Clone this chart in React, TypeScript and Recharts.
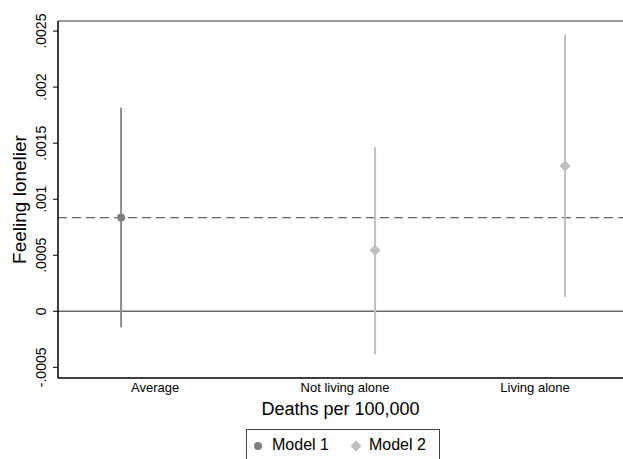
import { ComposedChart, Scatter, XAxis, YAxis, ReferenceLine, ErrorBar, Label } from 'recharts'

const categories = ['Average', 'Not living alone', 'Living alone']
const categoryTicks = [1, 2, 3]

// Model 1: overall estimate
const model1X = [0.821]
const model1Est = [0.000836]
const model1Lo = [-0.000143]
const model1Hi = [0.001817]

// Model 2: by living arrangement
const model2X = [2.158, 3.158]
const model2Est = [0.000544, 0.001296]
const model2Lo = [-0.000384, 0.000128]
const model2Hi = [0.001465, 0.00247]

const yTicks = [-0.0005, 0, 0.0005, 0.001, 0.0015, 0.002, 0.0025]
const yTickLabels = ['-.0005', '0', '.0005', '.001', '.0015', '.002', '.0025']

const X_DOMAIN: [number, number] = [0.489, 3.463]
const Y_DOMAIN: [number, number] = [-0.000595, 0.00259]

const FONT = '"Liberation Sans", Arial, Helvetica, sans-serif'
const M1 = '#7f7f7f'
const M1_LINE = '#8c8c8c'
const M2 = '#bfbfbf'

const toRows = (xs: number[], est: number[], lo: number[], hi: number[]) =>
  xs.map((x, i) => ({ x, y: est[i], err: [est[i] - lo[i], hi[i] - est[i]] }))

const model1Rows = toRows(model1X, model1Est, model1Lo, model1Hi)
const model2Rows = toRows(model2X, model2Est, model2Lo, model2Hi)

const Dot = (p: any) => <circle cx={p.cx} cy={p.cy} r={4} fill={M1} />
const Diamond = (p: any) => (
  <polygon
    points={`${p.cx},${p.cy - 5.5} ${p.cx + 5.5},${p.cy} ${p.cx},${p.cy + 5.5} ${p.cx - 5.5},${p.cy}`}
    fill={M2}
  />
)

const YTick = (p: any) => {
  const i = yTicks.indexOf(p.payload.value)
  return (
    <text
      x={41} y={p.y} transform={`rotate(-90 41 ${p.y})`}
      textAnchor="middle" dominantBaseline="central" fontSize={14} fill="#000" fontFamily={FONT}
    >
      {yTickLabels[i]}
    </text>
  )
}

const XTick = (p: any) => {
  const i = categoryTicks.indexOf(p.payload.value)
  return (
    <text x={p.x} y={p.y + 6} textAnchor="middle" fontSize={13} fill="#000" fontFamily={FONT}>
      {categories[i]}
    </text>
  )
}

const YTitle = (p: any) => {
  const vb = p.viewBox
  const cy = vb.y + vb.height / 2
  return (
    <text
      x={19} y={cy} transform={`rotate(-90 19 ${cy})`}
      textAnchor="middle" dominantBaseline="central" fontSize={19} fill="#000" fontFamily={FONT}
    >
      Feeling lonelier
    </text>
  )
}

export default function App() {
  return (
    <div style={{ position: 'absolute', left: 0, top: 0, width: 623, height: 459, overflow: 'hidden', background: '#fff', fontFamily: FONT }}>
      <ComposedChart width={623} height={459} margin={{ top: 21, right: 0, left: 0, bottom: 0 }}>
        <XAxis
          type="number" dataKey="x" domain={X_DOMAIN} ticks={categoryTicks} allowDataOverflow
          height={81} tickLine={false} axisLine={{ stroke: '#000', strokeWidth: 1.5 }} tick={<XTick />}
        >
          <Label value="Deaths per 100,000" position="insideBottom" offset={44} fontSize={18} fill="#000" fontFamily={FONT} />
        </XAxis>
        <YAxis
          type="number" dataKey="y" domain={Y_DOMAIN} ticks={yTicks} allowDataOverflow
          width={58} tickSize={5} tickLine={{ stroke: '#000' }} axisLine={{ stroke: '#000', strokeWidth: 1.5 }} tick={<YTick />}
        >
          <Label content={<YTitle />} />
        </YAxis>
        <ReferenceLine y={Y_DOMAIN[1]} stroke="#777" strokeWidth={1.5} ifOverflow="visible" />
        <ReferenceLine y={0} stroke="#6a6a6a" strokeWidth={1.5} />
        <ReferenceLine y={model1Est[0]} stroke="#666" strokeWidth={1.2} strokeDasharray="9 5" />
        <Scatter name="Model 1" data={model1Rows} shape={<Dot />} fill={M1} isAnimationActive={false}>
          <ErrorBar dataKey="err" direction="y" width={0} stroke={M1_LINE} strokeWidth={2} isAnimationActive={false} />
        </Scatter>
        <Scatter name="Model 2" data={model2Rows} shape={<Diamond />} fill={M2} isAnimationActive={false}>
          <ErrorBar dataKey="err" direction="y" width={0} stroke={M2} strokeWidth={2} isAnimationActive={false} />
        </Scatter>
      </ComposedChart>
      <div
        style={{
          position: 'absolute', left: 246, top: 429, width: 194, height: 40, border: '1px solid #444',
          boxSizing: 'border-box', display: 'flex', alignItems: 'flex-start', paddingTop: 6, fontSize: 16, color: '#000',
        }}
      >
        <svg width={12} height={12} style={{ marginLeft: 6, marginTop: 4 }}>
          <circle cx={5} cy={6} r={4} fill={M1} />
        </svg>
        <span style={{ marginLeft: 7 }}>Model 1</span>
        <svg width={14} height={14} style={{ marginLeft: 20, marginTop: 3 }}>
          <polygon points="7,1.5 12.5,7 7,12.5 1.5,7" fill={M2} />
        </svg>
        <span style={{ marginLeft: 6 }}>Model 2</span>
      </div>
    </div>
  )
}
